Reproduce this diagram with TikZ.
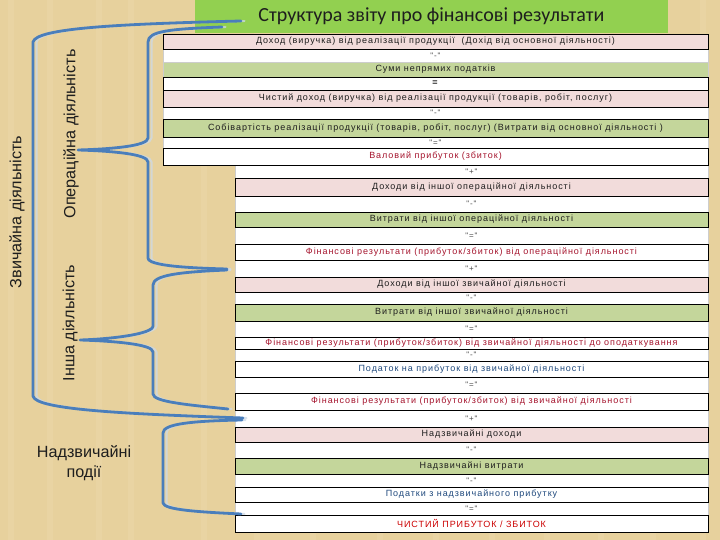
\documentclass[tikz,border=0pt]{standalone}
\usepackage{fontspec}
\setmainfont{Liberation Sans}
\newfontfamily\titlefont{Carlito}
\newfontfamily\rowfont[LetterSpace=10.5]{Liberation Sans}
\definecolor{pinkrow}{RGB}{242,220,219}
\definecolor{greenrow}{RGB}{196,214,155}
\definecolor{titlegreen}{RGB}{146,208,80}
\definecolor{braceblue}{RGB}{74,126,187}
\definecolor{halo}{RGB}{205,218,232}
\definecolor{redtext}{RGB}{165,20,45}
\definecolor{bluetext}{RGB}{31,73,125}
\definecolor{bgtan}{RGB}{231,209,157}
\definecolor{bgstripe}{RGB}{240,222,178}
\definecolor{seplinec}{RGB}{205,205,205}
\definecolor{labelc}{RGB}{30,30,30}
\newcommand\toprow[5]{\node[#4, minimum width=545pt, minimum height=#3pt] (#1) at (435.5,#2) {#5};}
\newcommand\lowrow[5]{\node[#4, minimum width=473pt, minimum height=#3pt] (#1) at (471.5,#2) {#5};}
\begin{document}
\begin{tikzpicture}[x=1pt,y=-1pt,
  rowbox/.style={draw=black, line width=0.8pt, inner sep=0pt, font=\rowfont\fontsize{9}{10}\selectfont, text=labelc},
  sepbox/.style={draw=seplinec, fill=white, line width=0.5pt, inner sep=0pt, font=\rowfont\fontsize{8}{9}\selectfont, text=labelc!80},
  pinkbox/.style={rowbox, fill=pinkrow},
  greenbox/.style={rowbox, fill=greenrow},
  whitebox/.style={rowbox, fill=white},
  plaingreen/.style={rowbox, draw=seplinec, fill=greenrow},
  redt/.style={text=redtext},
  brace/.style={draw=braceblue, line width=2.8pt, line cap=round, line join=round},
  bracehalo/.style={draw=halo, line width=2pt, opacity=0.75, line cap=round, xshift=3.5pt},
  sidelabel/.style={font=\fontsize{16.2}{18}\selectfont, text=labelc, inner sep=0pt}
]
\useasboundingbox (0,0) rectangle (720,540);
\fill[bgtan] (0,0) rectangle (720,540);
\foreach \sx in {8,47,96,128,201,254,310,377,433,489,544,598,650,700}
  \fill[bgstripe, opacity=0.3] (\sx,0) rectangle ++(6,540);

% title
\node[fill=titlegreen, minimum width=473pt, minimum height=33pt, inner sep=0pt,
      font=\titlefont\fontsize{20}{22}\selectfont, text=labelc] (title) at (431.5,16.5)
      {\raisebox{-2pt}{Структура звіту про фінансові результати}};

% separator rows (drawn first)
\toprow{s1}{55.5}{13}{sepbox}{"-"}
\toprow{s3}{113}{12}{sepbox}{"-"}
\toprow{s4}{142.5}{11}{sepbox}{"="}
\lowrow{s5}{171.5}{13}{sepbox}{"+"}
\lowrow{s6}{204}{16}{sepbox}{"-"}
\lowrow{s7}{235.5}{17}{sepbox}{"="}
\lowrow{s8}{268.5}{17}{sepbox}{"+"}
\lowrow{s9}{298}{12}{sepbox}{"-"}
\lowrow{s10}{329}{16}{sepbox}{"="}
\lowrow{s11}{355}{12}{sepbox}{"-"}
\lowrow{s12}{385}{16}{sepbox}{"="}
\lowrow{s13}{418.5}{17}{sepbox}{"+"}
\lowrow{s14}{450}{16}{sepbox}{"-"}
\lowrow{s15}{480.5}{13}{sepbox}{"-"}
\lowrow{s16}{508.5}{13}{sepbox}{"="}

% content rows, top section
\toprow{r1}{41.5}{15}{pinkbox}{Доход (виручка) від реалізації продукції \ (Дохід від основної діяльності)}
\toprow{r3}{69.5}{15}{plaingreen}{Суми непрямих податків}
\toprow{r4}{83.5}{13}{whitebox}{\textbf{=}}
\toprow{r5}{98.5}{17}{pinkbox}{Чистий доход (виручка) від реалізації продукції (товарів, робіт, послуг)}
\toprow{r7}{128}{18}{greenbox}{Собівартість реалізації продукції (товарів, робіт, послуг) (Витрати від основної діяльності )}
\toprow{r9}{156.5}{17}{whitebox, redt}{Валовий прибуток (збиток)}

% content rows, lower section
\lowrow{r10}{187}{18}{pinkbox}{Доходи від іншої операційної діяльності}
\lowrow{r11}{219.5}{15}{greenbox}{Витрати від іншої операційної діяльності}
\lowrow{r12}{252}{16}{whitebox, redt}{Фінансові результати (прибуток/збиток) від операційної діяльності}
\lowrow{r13}{284.5}{15}{pinkbox}{Доходи від іншої звичайної діяльності}
\lowrow{r14}{312.5}{17}{greenbox}{Витрати від іншої звичайної діяльності}
\lowrow{r15}{343}{12}{whitebox, redt}{Фінансові результати (прибуток/збиток) від звичайної діяльності до оподаткування}
\lowrow{r16}{369}{16}{whitebox, text=bluetext}{Податок на прибуток від звичайної діяльності}
\lowrow{r17}{401.5}{17}{whitebox, redt}{Фінансові результати (прибуток/збиток) від звичайної діяльності}
\lowrow{r18}{434.5}{15}{pinkbox}{Надзвичайні доходи}
\lowrow{r19}{466}{16}{greenbox}{Надзвичайні витрати}
\lowrow{r20}{494.5}{15}{whitebox, text=bluetext}{Податки з надзвичайного прибутку}
\lowrow{r21}{523.5}{17}{whitebox, text=red!80!black}{ЧИСТИЙ ПРИБУТОК / ЗБИТОК}

% braces: pale halo first
\draw[bracehalo] (241,21) .. controls (120,24) and (36,28) .. (33,42) -- (33,396) .. controls (35,410) and (130,414) .. (243,418);
\draw[bracehalo] (222,27) .. controls (170,29) and (148,31) .. (148,42) -- (148,138) .. controls (148,146) and (112,149) .. (78,150) .. controls (112,151) and (148,154) .. (148,162) -- (148,258) .. controls (148,266) and (190,268) .. (227,269);
\draw[bracehalo] (227,270) .. controls (180,272) and (153,275) .. (153,285) -- (153,326) .. controls (153,334) and (112,339) .. (80,340) .. controls (112,341) and (153,344) .. (153,352) -- (153,394) .. controls (153,402) and (190,405) .. (228,409);
\draw[bracehalo] (242,420) .. controls (190,421) and (163,424) .. (163,433) -- (163,503) .. controls (164,510) and (200,512) .. (241,514);

\draw[brace] (241,21) .. controls (120,24) and (36,28) .. (33,42) -- (33,396) .. controls (35,410) and (130,414) .. (243,418);
\draw[brace] (222,27) .. controls (170,29) and (148,31) .. (148,42) -- (148,138) .. controls (148,146) and (112,149) .. (78,150) .. controls (112,151) and (148,154) .. (148,162) -- (148,258) .. controls (148,266) and (190,268) .. (227,269);
\draw[brace] (227,270) .. controls (180,272) and (153,275) .. (153,285) -- (153,326) .. controls (153,334) and (112,339) .. (80,340) .. controls (112,341) and (153,344) .. (153,352) -- (153,394) .. controls (153,402) and (190,405) .. (228,409);
\draw[brace] (242,420) .. controls (190,421) and (163,424) .. (163,433) -- (163,503) .. controls (164,510) and (200,512) .. (241,514);

% side labels
\node[sidelabel, rotate=90] (lzv) at (17,212) {Звичайна діяльність};
\node[sidelabel, rotate=90] (lop) at (71,134) {Операційна діяльність};
\node[sidelabel, rotate=90] (lin) at (70,323) {Інша діяльність};
\node[sidelabel, align=center, font=\fontsize{16.2}{20}\selectfont] (lnd) at (84,463) {Надзвичайні\\події};
\end{tikzpicture}
\end{document}
